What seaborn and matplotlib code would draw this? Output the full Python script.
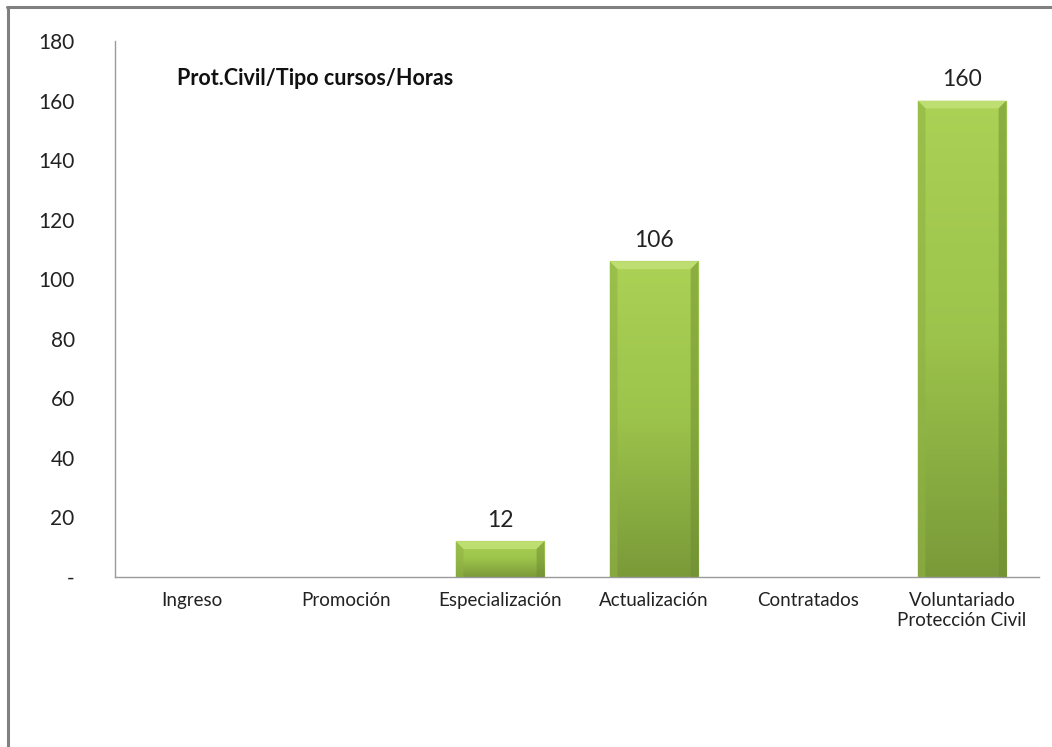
import numpy as np
import pandas as pd
import seaborn as sns
import matplotlib
matplotlib.use('Agg')
from matplotlib import pyplot as plt
from matplotlib.colors import LinearSegmentedColormap
from matplotlib.lines import Line2D
from matplotlib.patches import Polygon

categorias = ['Ingreso', 'Promoción', 'Especialización', 'Actualización',
              'Contratados', 'Voluntariado\nProtección Civil']
horas = [0, 0, 12, 106, 0, 160]
yticks = [0, 20, 40, 60, 80, 100, 120, 140, 160, 180]
ytick_labels = ['-', '20', '40', '60', '80', '100', '120', '140', '160', '180']
titulo = 'Prot.Civil/Tipo cursos/Horas'

sns.set_style('white')
plt.rcParams['font.family'] = ['Lato', 'DejaVu Sans']

df = pd.DataFrame({'cat': categorias, 'horas': horas})

fig = plt.figure(figsize=(10.52, 7.47), dpi=100)
ax = fig.add_axes([0.1093, 0.2276, 0.8784, 0.7174])

sns.barplot(data=df, x='cat', y='horas', color='#95ba48', width=0.575,
            ax=ax, saturation=1)

# degradado vertical en cada barra
cmap = LinearSegmentedColormap.from_list('verde', ['#7a9a39', '#9cc34b', '#abd255'])
grad = np.linspace(0, 1, 256).reshape(-1, 1)
bx, by = 0.05, 2.6  # tamaño del bisel
for p in ax.patches[:]:
    h = p.get_height()
    if h <= 0:
        continue
    x0, x1 = p.get_x(), p.get_x() + p.get_width()
    p.set_edgecolor('#728f35')
    p.set_linewidth(0.8)
    im = ax.imshow(grad, cmap=cmap, aspect='auto', origin='lower',
                   extent=[x0, x1, 0, h], zorder=p.get_zorder())
    im.set_clip_path(p)
    # bisel: borde superior claro, laterales algo más oscuros
    ax.add_patch(Polygon([[x0, h], [x1, h], [x1 - bx, h - by], [x0 + bx, h - by]],
                         closed=True, facecolor='#c4e27a', edgecolor='none',
                         alpha=0.8, zorder=3))
    ax.add_patch(Polygon([[x0, 0], [x0, h], [x0 + bx, h - by], [x0 + bx, 0]],
                         closed=True, facecolor='#8fb244', edgecolor='none',
                         alpha=0.6, zorder=3))
    ax.add_patch(Polygon([[x1, 0], [x1, h], [x1 - bx, h - by], [x1 - bx, 0]],
                         closed=True, facecolor='#6e8c31', edgecolor='none',
                         alpha=0.5, zorder=3))

ax.set_xlim(-0.5, 5.5)
ax.set_ylim(0, 180)
ax.set_yticks(yticks)
ax.set_yticklabels(ytick_labels, fontsize=15)
ax.tick_params(axis='y', length=0, pad=29)
ax.tick_params(axis='x', length=0, pad=11, labelsize=13.5)
for lbl in ax.get_xticklabels():
    lbl.set_color('#222222')
for lbl in ax.get_yticklabels():
    lbl.set_color('#222222')
ax.set_xlabel('')
ax.set_ylabel('')

for s in ['top', 'right']:
    ax.spines[s].set_visible(False)
for s in ['left', 'bottom']:
    ax.spines[s].set_color('#9a9a9a')
    ax.spines[s].set_linewidth(1)

# etiquetas de valores
for i, v in enumerate(horas):
    if v > 0:
        ax.text(i, v + 3.5, str(v), ha='center', va='bottom', fontsize=16.5, color='#222222')

ax.text(0.067, 0.93, titulo, transform=ax.transAxes, fontsize=15.5,
        fontweight='bold', ha='left', va='center', color='#111111')

# borde del recuadro
fig.add_artist(Line2D([0.0075, 0.0075], [0, 0.991], transform=fig.transFigure,
                      color='#808080', lw=2.2))
fig.add_artist(Line2D([0.0065, 1], [0.991, 0.991], transform=fig.transFigure,
                      color='#808080', lw=2.2))

fig.savefig('out.png', dpi=100, facecolor='white')
